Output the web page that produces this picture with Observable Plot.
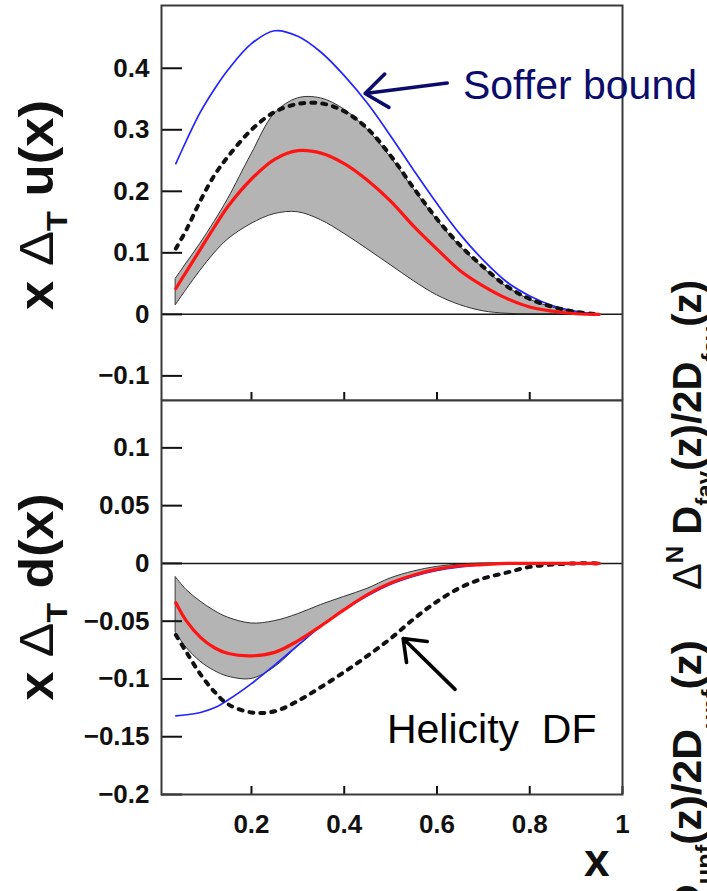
<!DOCTYPE html>
<html>
<head>
<meta charset="utf-8">
<script src="https://cdn.jsdelivr.net/npm/d3@7"></script>
<script src="https://cdn.jsdelivr.net/npm/@observablehq/plot@0.6"></script>
<style>
  html, body { margin: 0; padding: 0; background: #fff; overflow: hidden; }
  #figure { position: relative; width: 707px; height: 891px; overflow: hidden; }
  #figure > svg { position: absolute; left: 0; }
</style>
</head>
<body>
<div id="figure"></div>
<script>
// Sampling points in Bjorken x shared by every curve
const xs = [0.037, 0.06, 0.09, 0.12, 0.15, 0.2, 0.25, 0.3, 0.35, 0.4, 0.45, 0.5, 0.55, 0.6, 0.65, 0.7, 0.75, 0.8, 0.85, 0.9, 0.95];

// u quark: Soffer bound, helicity distribution, best fit and uncertainty band
const uSoffer   = [0.245, 0.283, 0.329, 0.366, 0.398, 0.440, 0.461, 0.452, 0.426, 0.388, 0.343, 0.290, 0.234, 0.180, 0.130, 0.088, 0.053, 0.030, 0.014, 0.005, 0.0];
const uHelicity = [0.107, 0.138, 0.185, 0.226, 0.257, 0.300, 0.329, 0.342, 0.343, 0.330, 0.302, 0.258, 0.205, 0.155, 0.112, 0.077, 0.046, 0.025, 0.012, 0.004, 0.0];
const uBest     = [0.042, 0.070, 0.106, 0.142, 0.176, 0.220, 0.252, 0.266, 0.262, 0.245, 0.218, 0.184, 0.143, 0.106, 0.071, 0.046, 0.026, 0.012, 0.005, 0.001, 0.0];
const uBandHi   = [0.058, 0.083, 0.115, 0.150, 0.188, 0.260, 0.326, 0.351, 0.351, 0.333, 0.300, 0.255, 0.203, 0.153, 0.110, 0.075, 0.045, 0.024, 0.011, 0.003, 0.0];
const uBandLo   = [0.015, 0.040, 0.071, 0.099, 0.122, 0.147, 0.163, 0.166, 0.153, 0.131, 0.106, 0.080, 0.054, 0.031, 0.015, 0.005, 0.001, 0.0, 0.0, 0.0, 0.0];

// d quark: same set of curves
const dSoffer   = [-0.132, -0.131, -0.129, -0.125, -0.118, -0.104, -0.088, -0.071, -0.054, -0.040, -0.028, -0.018, -0.011, -0.006, -0.003, -0.001, 0.0, 0.0, 0.0, 0.0, 0.0];
const dHelicity = [-0.062, -0.077, -0.096, -0.111, -0.122, -0.129, -0.128, -0.119, -0.107, -0.094, -0.080, -0.065, -0.048, -0.033, -0.021, -0.013, -0.008, -0.003, -0.001, 0.0, 0.0];
const dBest     = [-0.034, -0.050, -0.064, -0.073, -0.078, -0.080, -0.077, -0.067, -0.054, -0.040, -0.027, -0.017, -0.010, -0.005, -0.002, -0.001, 0.0, 0.0, 0.0, 0.0, 0.0];
const dBandHi   = [-0.012, -0.023, -0.033, -0.041, -0.047, -0.052, -0.050, -0.044, -0.036, -0.029, -0.022, -0.013, -0.007, -0.003, -0.001, 0.0, 0.0, 0.0, 0.0, 0.0, 0.0];
const dBandLo   = [-0.060, -0.073, -0.085, -0.093, -0.098, -0.100, -0.090, -0.072, -0.055, -0.041, -0.028, -0.018, -0.011, -0.006, -0.003, -0.001, 0.0, 0.0, 0.0, 0.0, 0.0];

// Axis ticks
const xTicks = [0.2, 0.4, 0.6, 0.8, 1];
const uTicks = [-0.1, 0, 0.1, 0.2, 0.3, 0.4];
const dTicks = [-0.2, -0.15, -0.1, -0.05, 0, 0.05, 0.1];

// Annotations: label anchor and arrow (tail -> head) in data units
const sofferNote   = [{text: "Soffer bound", x: 0.656, y: 0.371, x1: 0.622, y1: 0.376, x2: 0.445, y2: 0.359}];
const helicityNote = [{text: "Helicity  DF", x: 0.492, y: -0.144, x1: 0.639, y1: -0.109, x2: 0.527, y2: -0.065}];

const FONT = "'Liberation Sans', Arial, Helvetica, sans-serif";
const fmt = d => d === 0 ? "0" : String(d).replace("-", "\u2212");
const CURVE = "catmull-rom";

function rows(soffer, helicity, best, hi, lo) {
  return xs.map((x, i) => ({x, soffer: soffer[i], helicity: helicity[i], best: best[i], hi: hi[i], lo: lo[i]}));
}

function curveMarks(data) {
  return [
    Plot.areaY(data, {x: "x", y1: "lo", y2: "hi", fill: "#b4b4b4", stroke: "#333", strokeWidth: 1, curve: CURVE}),
    Plot.ruleY([0], {stroke: "#1a1a1a", strokeWidth: 1.5}),
    Plot.lineY(data, {x: "x", y: "soffer", stroke: "#2424ff", strokeWidth: 1.7, curve: CURVE}),
    Plot.lineY(data, {x: "x", y: "helicity", stroke: "#111", strokeWidth: 4, strokeDasharray: "4,7", curve: CURVE}),
    Plot.lineY(data, {x: "x", y: "best", stroke: "#ff1414", strokeWidth: 3.2, curve: CURVE})
  ];
}

function noteMarks(note, color) {
  return [
    Plot.arrow(note, {x1: "x1", y1: "y1", x2: "x2", y2: "y2", stroke: color, strokeWidth: 3.6, headLength: 17, headAngle: 75}),
    Plot.text(note, {x: "x", y: "y", text: "text", textAnchor: "start", fill: color, fontSize: 41, fontWeight: "normal", fontFamily: FONT})
  ];
}

const style = {fontFamily: FONT, fontSize: "26px", fontWeight: "bold", color: "#111", background: "transparent"};

const upperPanel = Plot.plot({
  width: 707, height: 400,
  marginLeft: 161, marginRight: 85, marginTop: 5, marginBottom: 0,
  style,
  x: {domain: [0.006, 1]},
  y: {domain: [-0.14, 0.502]},
  marks: [
    ...curveMarks(rows(uSoffer, uHelicity, uBest, uBandHi, uBandLo)),
    Plot.axisY(uTicks, {tickSize: -21, tickPadding: 33, strokeWidth: 2, tickFormat: fmt, label: null}),
    Plot.axisX(xTicks.slice(0, 4), {tickSize: -8, strokeWidth: 2, tickFormat: () => "", label: null}),
    Plot.frame({stroke: "#3a3a3a", strokeWidth: 2}),
    ...noteMarks(sofferNote, "#0b0b6b")
  ]
});

const lowerPanel = Plot.plot({
  width: 707, height: 492,
  marginLeft: 161, marginRight: 85, marginTop: 1, marginBottom: 97,
  style,
  x: {domain: [0.006, 1]},
  y: {domain: [-0.2, 0.141]},
  marks: [
    ...curveMarks(rows(dSoffer, dHelicity, dBest, dBandHi, dBandLo)),
    Plot.axisY(dTicks, {tickSize: -21, tickPadding: 33, strokeWidth: 2, tickFormat: fmt, label: null}),
    Plot.axisX(xTicks, {tickSize: -8, tickPadding: 28, strokeWidth: 2, tickFormat: fmt, label: null}),
    Plot.frame({stroke: "#3a3a3a", strokeWidth: 2}),
    Plot.text(["x"], {frameAnchor: "bottom-right", dx: -13, dy: 81, fontSize: 46, fontWeight: "bold"}),
    ...noteMarks(helicityNote, "#000")
  ]
});

const fig = document.getElementById("figure");
upperPanel.style.top = "0px";
lowerPanel.style.top = "399px";
fig.append(upperPanel, lowerPanel);

// Rotated titles built from tspans (sub/superscripts), reading bottom to top
function richLabel(svg, {x, y, size, length, anchor, parts}) {
  const t = d3.select(svg).append("text")
    .attr("transform", `translate(${x},${y}) rotate(-90)`)
    .attr("text-anchor", anchor)
    .attr("font-family", FONT)
    .attr("font-size", size)
    .attr("font-weight", "bold")
    .attr("fill", "#111")
    .attr("textLength", length)
    .attr("lengthAdjust", "spacingAndGlyphs")
    .style("white-space", "pre");
  let shift = 0;
  for (const p of parts) {
    const s = (p.shift || 0) * size;
    const span = t.append("tspan").text(p.text).attr("dy", s - shift);
    if (p.scale) span.attr("font-size", size * p.scale);
    if (p.weight) span.attr("font-weight", p.weight);
    shift = s;
  }
}

richLabel(upperPanel, {x: 53, y: 205, size: 48, length: 210, anchor: "middle", parts: [
  {text: "x "}, {text: "\u0394", weight: "normal"}, {text: "T", scale: 0.62, shift: 0.3}, {text: " u(x)"}
]});
richLabel(lowerPanel, {x: 53, y: 198, size: 48, length: 207, anchor: "middle", parts: [
  {text: "x "}, {text: "\u0394", weight: "normal"}, {text: "T", scale: 0.62, shift: 0.3}, {text: " d(x)"}
]});

// Side titles of the neighbouring panels, cut by the page edge
const side = d3.create("svg").attr("width", 707).attr("height", 891).style("top", "0px").style("pointer-events", "none");
fig.append(side.node());
richLabel(side.node(), {x: 701, y: 590, size: 40, length: 310, anchor: "start", parts: [
  {text: "\u0394", weight: "normal"}, {text: "N", scale: 0.6, shift: -0.45}, {text: " D"},
  {text: "fav", scale: 0.6, shift: 0.3}, {text: "(z)/2D"}, {text: "fav", scale: 0.6, shift: 0.45}, {text: "(z)"}
]});
richLabel(side.node(), {x: 701, y: 915, size: 40, length: 275, anchor: "start", parts: [
  {text: "D"}, {text: "unf", scale: 0.6, shift: 0.3}, {text: "(z)/2D"}, {text: "unf", scale: 0.6, shift: 0.45}, {text: "(z)"}
]});
</script>
</body>
</html>
